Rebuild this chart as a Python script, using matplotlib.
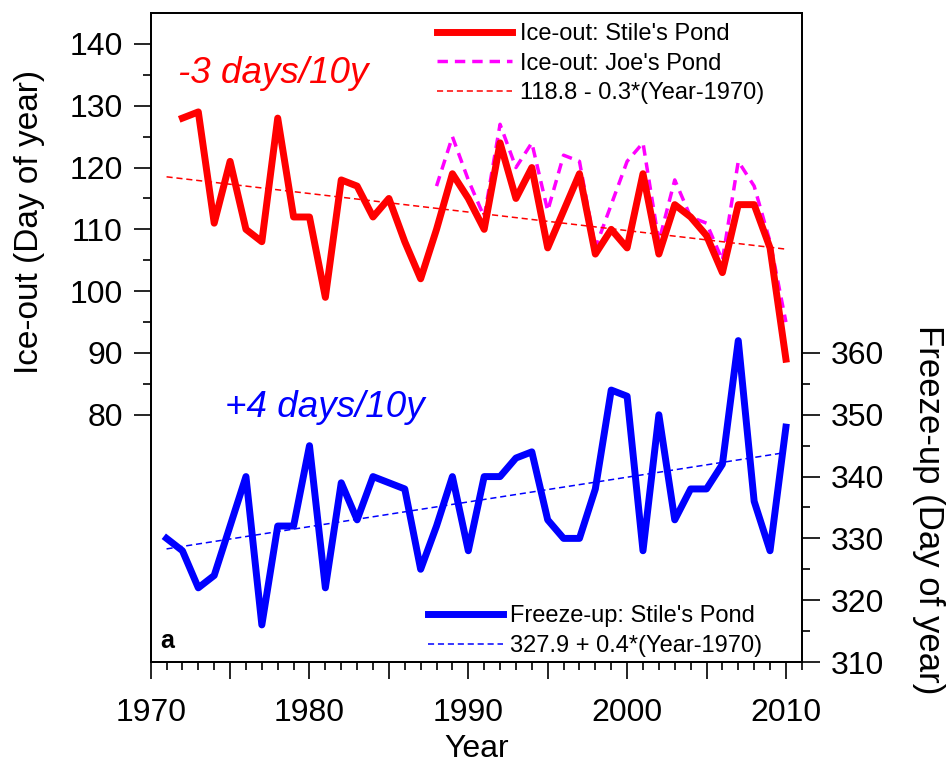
import matplotlib
matplotlib.use("Agg")
import matplotlib.pyplot as plt
from matplotlib.ticker import MultipleLocator, FixedLocator

plt.rcParams['font.family'] = ['Liberation Sans', 'DejaVu Sans']

# Ice-out, Stile's Pond (1972-2010)
stiles_years = list(range(1972, 2011))
stiles_iceout = [128, 129, 111, 121, 110, 108, 128, 112, 112, 99,
                 118, 117, 112, 115, 108, 102, 110, 119, 115, 110,
                 124, 115, 120, 107, 113, 119, 106, 110, 107, 119,
                 106, 114, 112, 109, 103, 114, 114, 107, 89]

# Ice-out, Joe's Pond (1988-2010)
joes_years = list(range(1988, 2011))
joes_iceout = [117, 125, 118, 112, 127, 120, 124, 113, 122, 121,
               107, 114, 121, 124, 108, 118, 112, 111, 105, 121,
               117, 108, 95]

# Freeze-up, Stile's Pond (1971-2010)
freeze_years = list(range(1971, 2011))
freeze_up = [330, 328, 322, 324, 332, 340, 316, 332, 332, 345,
             322, 339, 333, 340, 339, 338, 325, 332, 340, 328,
             340, 340, 343, 344, 333, 330, 330, 338, 354, 353,
             328, 350, 333, 338, 338, 342, 362, 336, 328, 348]

trend_years = [1971, 2010]
ice_trend = [118.8 - 0.3 * (y - 1970) for y in trend_years]
freeze_trend = [327.9 + 0.4 * (y - 1970) for y in trend_years]

fig = plt.figure(figsize=(9.5, 7.76), dpi=100)
ax = fig.add_axes([0.1586, 0.1469, 0.6854, 0.8363])
ax2 = ax.twinx()

l1, = ax.plot(stiles_years, stiles_iceout, color='#ff0000', lw=5, solid_joinstyle='round',
              label="Ice-out: Stile's Pond", zorder=3)
l2, = ax.plot(joes_years, joes_iceout, color='#ff00ff', lw=2.5, ls=(0, (3, 2)),
              label="Ice-out: Joe's Pond", zorder=2)
l3, = ax.plot(trend_years, ice_trend, color='#ff0000', lw=1.1, ls=(0, (4, 2.5)),
              label='118.8 - 0.3*(Year-1970)', zorder=4)

b1, = ax2.plot(freeze_years, freeze_up, color='#0000ff', lw=5, solid_joinstyle='round',
               label="Freeze-up: Stile's Pond", zorder=3)
b2, = ax2.plot(trend_years, freeze_trend, color='#0000ff', lw=1.1, ls=(0, (4, 2.5)),
               label='327.9 + 0.4*(Year-1970)', zorder=4)

ax.set_xlim(1970, 2011)
ax.set_ylim(40, 145)
ax2.set_ylim(310, 415)

ax.xaxis.set_minor_locator(MultipleLocator(1))
ax.set_xticks([1970, 1975, 1980, 1985, 1990, 1995, 2000, 2005, 2010])
ax.set_xticklabels(['1970', '', '1980', '', '1990', '', '2000', '', '2010'])

ax.yaxis.set_major_locator(FixedLocator(range(80, 141, 10)))
ax.yaxis.set_minor_locator(FixedLocator(range(85, 140, 10)))
ax2.yaxis.set_major_locator(FixedLocator(range(310, 361, 10)))
ax2.yaxis.set_minor_locator(FixedLocator(range(315, 360, 10)))

for a in (ax, ax2):
    a.tick_params(which='major', direction='out', length=12, width=1.2, labelsize=23)
    a.tick_params(which='minor', direction='out', length=6, width=1.2)
    for s in a.spines.values():
        s.set_linewidth(1.3)
ax.tick_params(axis='x', which='major', pad=14)
ax.tick_params(axis='y', which='major', pad=8)
ax2.tick_params(axis='y', which='major', pad=8, length=13)

ax.set_xlabel('Year', fontsize=23, labelpad=4)
ax.set_ylabel('Ice-out (Day of year)', fontsize=24)
ax.yaxis.set_label_coords(-0.162, 0.678)
ax2.set_ylabel('Freeze-up (Day of year)', fontsize=25, rotation=270, va='bottom')
ax2.yaxis.set_label_coords(1.17, 0.234)

ax.text(1971.7, 133.7, '-3 days/10y', color='#ff0000', fontsize=26.5, style='italic')
ax.text(1974.7, 79.7, '+4 days/10y', color='#0000ff', fontsize=26.5, style='italic')
ax.text(0.014, 0.022, 'a', transform=ax.transAxes, fontsize=18, fontweight='bold')

leg1 = ax.legend(handles=[l1, l2, l3], loc='upper left', bbox_to_anchor=(0.4396, 0.984),
                 frameon=False, fontsize=17, handlelength=3.2, handletextpad=0.3,
                 labelspacing=0.31, borderpad=0, borderaxespad=0)
leg2 = ax2.legend(handles=[b1, b2], loc='lower left', bbox_to_anchor=(0.4257, 0.008),
                  frameon=False, fontsize=17, handlelength=3.2, handletextpad=0.3,
                  labelspacing=0.31, borderpad=0, borderaxespad=0)

fig.savefig('out.png', dpi=100)
